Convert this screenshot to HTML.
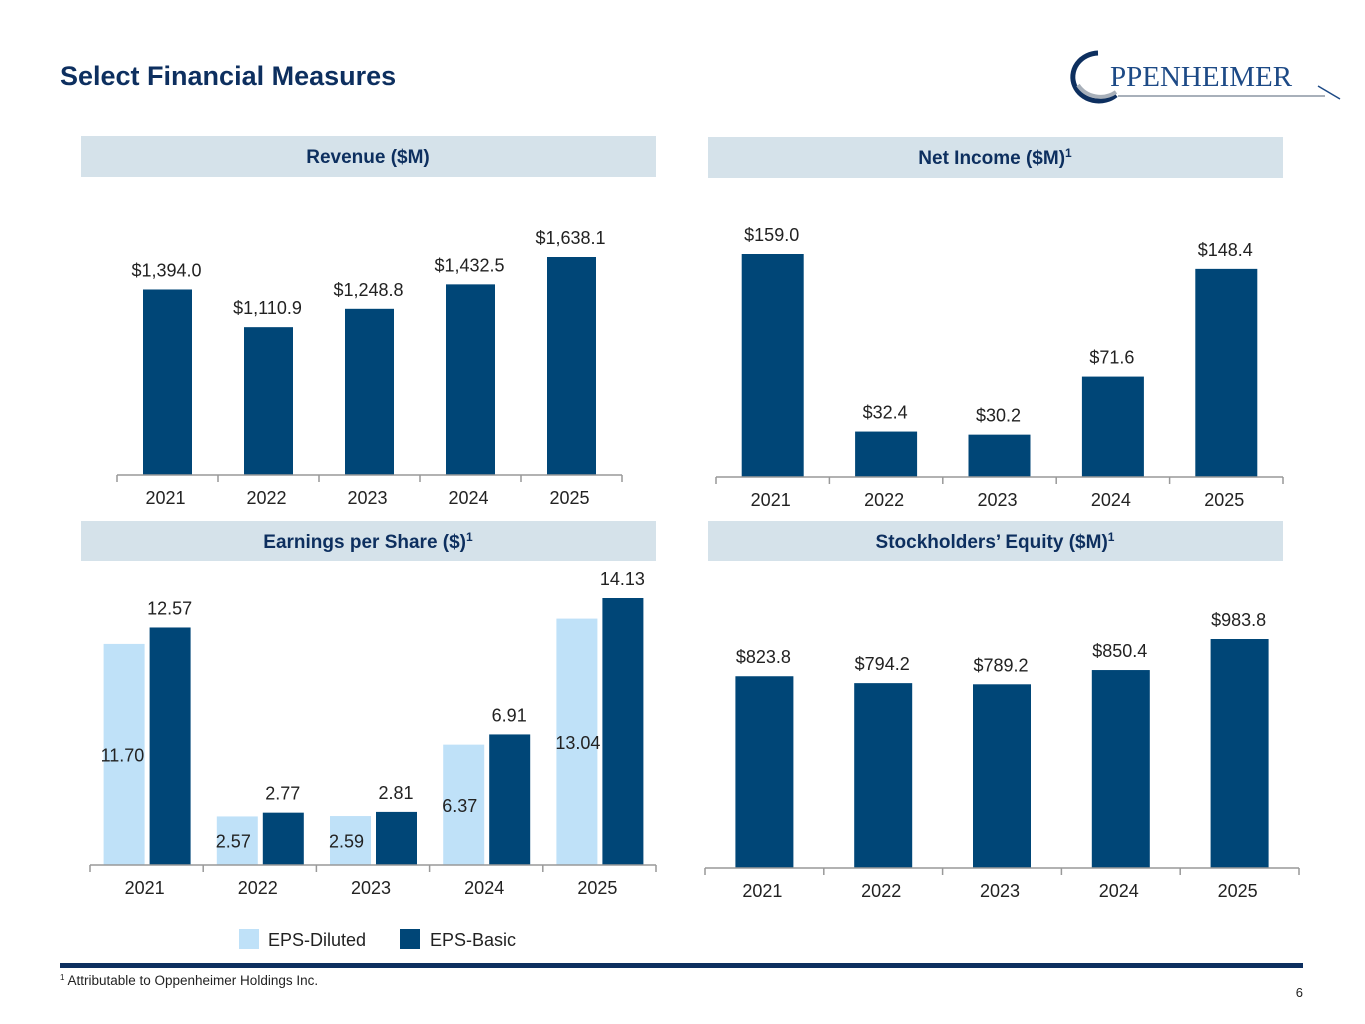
<!DOCTYPE html>
<html><head><meta charset="utf-8"><style>
body{margin:0;background:#fff;}
svg{display:block;font-family:"Liberation Sans",Calibri,sans-serif;}
</style></head><body>
<svg id="s" width="1365" height="1024" viewBox="0 0 1365 1024" xmlns="http://www.w3.org/2000/svg">
<text x="60" y="85" font-size="27" font-weight="bold" fill="#0d2f5f">Select Financial Measures</text>
<g>
<path d="M1098 53 A26 24 0 1 0 1116 95" fill="none" stroke="#0d2f5f" stroke-width="5"/>
<path d="M1078 85 A26 24 0 0 0 1116 92" fill="none" stroke="#a8b0ba" stroke-width="4"/>
<text x="1110" y="86" font-family="Liberation Serif,serif" font-size="29" fill="#1d4a86">PPENHEIMER</text>
<line x1="1118" y1="96" x2="1325" y2="96" stroke="#a8b0ba" stroke-width="2"/>
<path d="M1318 86 L1340 99" stroke="#1d4a86" stroke-width="1.5" fill="none"/>
</g>
<rect x="81" y="136" width="575" height="41" fill="#d5e2ea"/>
<text x="368" y="163" text-anchor="middle" font-size="19" font-weight="bold" fill="#0d2f5f">Revenue ($M)</text>
<rect x="708" y="137" width="575" height="41" fill="#d5e2ea"/>
<text x="995" y="164" text-anchor="middle" font-size="19" font-weight="bold" fill="#0d2f5f">Net Income ($M)<tspan font-size="12" dy="-7">1</tspan></text>
<rect x="81" y="521" width="575" height="40" fill="#d5e2ea"/>
<text x="368" y="548" text-anchor="middle" font-size="19" font-weight="bold" fill="#0d2f5f">Earnings per Share ($)<tspan font-size="12" dy="-7">1</tspan></text>
<rect x="708" y="521" width="575" height="40" fill="#d5e2ea"/>
<text x="995" y="548" text-anchor="middle" font-size="19" font-weight="bold" fill="#0d2f5f">Stockholders’ Equity ($M)<tspan font-size="12" dy="-7">1</tspan></text>
<g id="charts"></g>
<rect x="239" y="929" width="20" height="20" fill="#bfe1f8"/>
<text x="268" y="946" font-size="18" fill="#222">EPS-Diluted</text>
<rect x="400" y="929" width="20" height="20" fill="#004677"/>
<text x="430" y="946" font-size="18" fill="#222">EPS-Basic</text>
<rect x="60" y="963" width="1243" height="5" fill="#0d2f5f"/>
<text x="60" y="985" font-size="13.5" fill="#222"><tspan font-size="8" dy="-5">1</tspan><tspan dy="5"> Attributable to Oppenheimer Holdings Inc.</tspan></text>
<text x="1303" y="997" text-anchor="end" font-size="13" fill="#222">6</text>
</svg>
<script>
const years = ["2021","2022","2023","2024","2025"];
const revenue = [1394.0, 1110.9, 1248.8, 1432.5, 1638.1];
const revenueLabels = ["$1,394.0","$1,110.9","$1,248.8","$1,432.5","$1,638.1"];
const netIncome = [159.0, 32.4, 30.2, 71.6, 148.4];
const netIncomeLabels = ["$159.0","$32.4","$30.2","$71.6","$148.4"];
const epsDiluted = [11.70, 2.57, 2.59, 6.37, 13.04];
const epsBasic = [12.57, 2.77, 2.81, 6.91, 14.13];
const equity = [823.8, 794.2, 789.2, 850.4, 983.8];
const equityLabels = ["$823.8","$794.2","$789.2","$850.4","$983.8"];

const NS = "http://www.w3.org/2000/svg";
const root = document.getElementById("charts");
function mk(tag, attrs, parent){const e=document.createElementNS(NS,tag);for(const k in attrs)e.setAttribute(k,attrs[k]);(parent||root).appendChild(e);return e;}
function txt(x,y,s,anchor,parent){const t=mk("text",{x:x,y:y,"font-size":18,fill:"#222","text-anchor":anchor||"middle"},parent);t.textContent=s;return t;}

function axis(g,x0,x1,y,n){
  mk("line",{x1:x0,y1:y,x2:x1,y2:y,stroke:"#999","stroke-width":1.5},g);
  const w=(x1-x0)/n;
  for(let i=0;i<=n;i++){mk("line",{x1:x0+i*w,y1:y,x2:x0+i*w,y2:y+7,stroke:"#999","stroke-width":1.5},g);}
  years.forEach((yr,i)=>txt(x0+(i+0.5)*w-2,y+29,yr,"middle",g));
}

function simpleChart(name,vals,labels,x0,x1,y0,maxV,maxH,bw){
  const g=mk("g",{});
  
  
  const w=(x1-x0)/vals.length;
  const ys=v=>v/maxV*maxH;
  vals.forEach((v,i)=>{
    const cx=x0+(i+0.5)*w,h=ys(v);
    const r=mk("rect",{x:cx-bw/2,y:y0-h,width:bw,height:h,fill:"#004677"},g);
    
    
    txt(cx-1,y0-h-13,labels[i],"middle",g);
  });
  axis(g,x0,x1,y0,vals.length);
}
simpleChart("revenue-chart",revenue,revenueLabels,117,622,475,1638.1,218,49);
simpleChart("net-income-chart",netIncome,netIncomeLabels,716,1283,477,159.0,223,62);
simpleChart("equity-chart",equity,equityLabels,705,1299,868,983.8,229,58);

(function(){
  const g=mk("g",{});
  
  
  const x0=90,x1=656,y0=865,w=(x1-x0)/years.length,k=267/14.13;
  years.forEach((yr,i)=>{
    const c=x0+(i+0.5)*w-4;
    const hd=epsDiluted[i]*k,hb=epsBasic[i]*k;
    const d=mk("rect",{x:c-39,y:y0-hd,width:41,height:hd,fill:"#bfe1f8"},g);
    
    
    const b=mk("rect",{x:c+7,y:y0-hb,width:41,height:hb,fill:"#004677"},g);
    
    
    txt(c-40+(i==0?-2:0),y0-hd/2+7,epsDiluted[i].toFixed(2),"start",g);
    txt(c+27,y0-hb-13,epsBasic[i].toFixed(2),"middle",g);
  });
  axis(g,x0,x1,y0,years.length);
})();
</script>
</body></html>
